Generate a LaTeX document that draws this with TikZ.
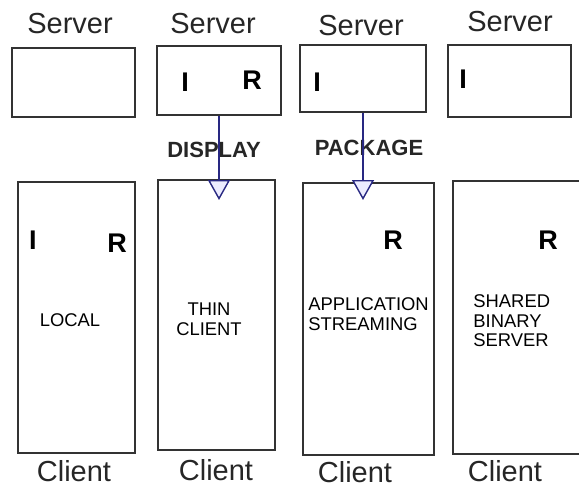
\documentclass[tikz,border=0pt]{standalone}
\usepackage{fontspec}
\setmainfont{Liberation Sans}
\usetikzlibrary{positioning, arrows.meta, fit, calc}
\definecolor{navy}{RGB}{40,40,130}
\definecolor{lav}{RGB}{236,236,255}

\begin{document}
\begin{tikzpicture}[
  x=0.5pt, y=-0.5pt,
  box/.style={rectangle, draw=black!80, line width=1pt, inner sep=0pt},
  tier/.style={font=\fontsize{14.5}{17}\selectfont, text=black!85},
  tag/.style={font=\bfseries\fontsize{13.5}{15}\selectfont},
  mode/.style={font=\fontsize{9.2}{9.8}\selectfont, inner sep=0pt},
  flowlabel/.style={font=\bfseries\fontsize{11}{13}\selectfont, text=black!85},
  flow/.style={-{Triangle[length=10pt,width=11pt,fill=lav,line width=0.7pt]}, draw=navy, line width=0.8pt}
]
\useasboundingbox (0,0) rectangle (579,487);

% server row
\node[box, fit={(12,48) (135,117)}] (srvA) {};
\node[box, fit={(157,46) (281,115)}] (srvB) {};
\node[box, fit={(300,45) (426,112)}] (srvC) {};
\node[box, fit={(448,45) (571,117)}] (srvD) {};

% client row
\node[box, fit={(18,182) (135,453)}] (cliA) {};
\node[box, fit={(158,180) (275,450)}] (cliB) {};
\node[box, fit={(303,183) (434,455)}] (cliC) {};
\node[box, fit={(453,181) (610,454)}] (cliD) {};

% captions
\node[tier] (capSrvA) at (70,24) {Server};
\node[tier] (capSrvB) at (213,24) {Server};
\node[tier] (capSrvC) at (361,26) {Server};
\node[tier] (capSrvD) at (510,22) {Server};
\node[tier] (capCliA) at (74,471) {Client};
\node[tier] (capCliB) at (216,470) {Client};
\node[tier] (capCliC) at (355,472) {Client};
\node[tier] (capCliD) at (505,471) {Client};

% I / R tags
\node[tag] (iB) at (185,82) {I};
\node[tag] (rB) at (252,80) {R};
\node[tag] (iC) at (317,82) {I};
\node[tag] (iD) at (463,79) {I};
\node[tag] (iA) at (33,240) {I};
\node[tag] (rA) at (117,243) {R};
\node[tag] (rC) at (393,240) {R};
\node[tag] (rD) at (548,240) {R};

% modes
\node[mode] (local) at (70,320) {LOCAL};
\node[mode, align=center] (thin) at (209,319) {THIN\\CLIENT};
\node[mode, align=left, anchor=west] (stream) at (308,314) {APPLICATION\\STREAMING};
\node[mode, align=left, anchor=west] (shared) at (473,321) {SHARED\\BINARY\\SERVER};

% transfers
\node[flowlabel] (dispLbl) at (214,150) {DISPLAY};
\node[flowlabel] (pkgLbl) at (369,148) {PACKAGE};
\coordinate (dispTip) at ($(srvB.south |- cliB.north)+(0,21)$);
\coordinate (pkgTip) at ($(srvC.south |- cliC.north)+(0,18)$);
\draw[flow] (srvB.south) -- (dispTip);
\draw[flow] (srvC.south) -- (pkgTip);
\end{tikzpicture}
\end{document}
